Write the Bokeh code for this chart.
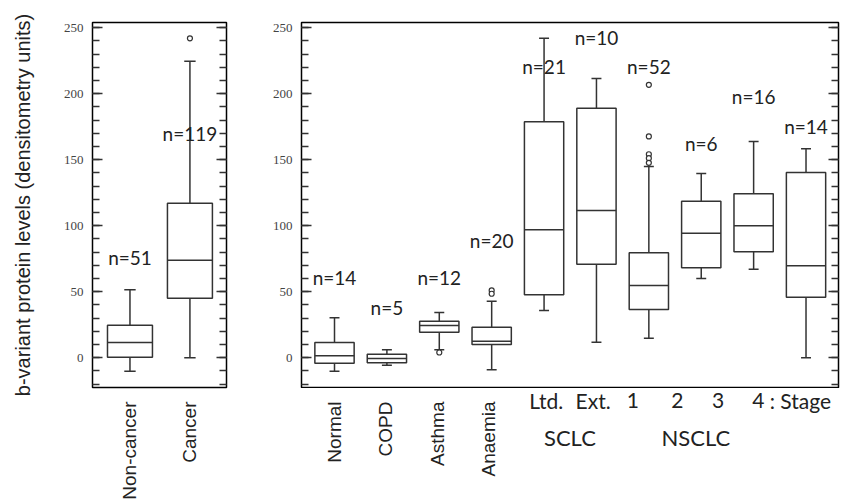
import numpy as np
from bokeh.plotting import figure
from bokeh.models import FixedTicker, LinearAxis, Range1d, ColumnDataSource
from bokeh.layouts import row, column
from bokeh.core.properties import value
from bokeh.embed import file_html
from bokeh.resources import INLINE

# ---------------- data ----------------
left_groups = ["Non-cancer", "Cancer"]
left_lower = [-10.1, 0.0]
left_q1 = [0.5, 45.2]
left_median = [11.6, 73.9]
left_q3 = [24.7, 117.1]
left_upper = [51.5, 224.7]
left_n = ["n=51", "n=119"]
left_n_y = [76, 170]
left_out_group = ["Cancer"]
left_out_val = [242]

right_groups = ["Normal", "COPD", "Asthma", "Anaemia", "Ltd.", "Ext.", "1", "2", "3", "4"]
right_lower = [-10.1, -5.6, 6.1, -9.1, 35.8, 11.8, 14.8, 60.1, 67.1, 0.0]
right_q1 = [-4.1, -3.8, 19.4, 10.1, 47.7, 70.9, 36.6, 68.2, 80.3, 45.9]
right_median = [1.5, -0.5, 24.5, 12.6, 97.0, 111.6, 54.8, 94.4, 100.0, 69.7]
right_q3 = [11.6, 2.7, 27.7, 23.2, 178.8, 189.1, 79.5, 118.6, 124.2, 140.4]
right_upper = [30.3, 6.1, 34.3, 42.9, 242.0, 211.6, 144.9, 139.6, 163.9, 158.3]
right_n = ["n=14", "n=5", "n=12", "n=20", "n=21", "n=10", "n=52", "n=6", "n=16", "n=14"]
right_n_y = [61, 38, 61, 89, 221, 243, 221, 162, 198, 175]
right_out_group = ["Asthma", "Anaemia", "Anaemia", "1", "1", "1", "1", "1"]
right_out_val = [4.0, 51.0, 48.5, 206.8, 167.7, 154.2, 151.2, 147.7]

vertical_count = 4  # first four right-hand groups are labelled vertically
stage_labels = ["Ltd.", "Ext.", "1", "2", "3", "4", ": Stage"]
stage_x = [5.11, 6.02, 6.79, 7.65, 8.44, 9.22, 9.44]
stage_align = ["center", "center", "center", "center", "center", "center", "left"]
type_labels = ["SCLC", "NSCLC"]
type_x = [5.57, 8.01]

y_major = [0, 50, 100, 150, 200, 250]
y_minor = list(range(-20, 251, 10))

LINE = "#333333"
TEXT = "#222222"
FONT = "Lato"
SANS = "Liberation Sans"
YR = (-22.5, 254)
H = 500


def style_common(p):
    p.background_fill_color = "white"
    p.border_fill_color = "white"
    p.xgrid.visible = False
    p.ygrid.visible = False


def add_right_ticks(p):
    for ticks, length in ((y_minor, 7), (y_major, 10)):
        ra = LinearAxis(ticker=FixedTicker(ticks=[], minor_ticks=ticks))
        ra.major_tick_in = 0
        ra.major_tick_out = 0
        ra.minor_tick_in = length
        ra.minor_tick_out = 0
        ra.minor_tick_line_color = LINE
        ra.minor_tick_line_width = 1.5
        ra.major_tick_line_color = None
        ra.axis_line_color = None
        ra.major_label_standoff = 0
        p.add_layout(ra, "right")


def style_left_axis(p, show_label):
    ya = p.yaxis[0]
    ya.ticker = FixedTicker(ticks=y_major, minor_ticks=y_minor)
    ya.major_tick_in = 10
    ya.major_tick_out = 0
    ya.minor_tick_in = 7
    ya.minor_tick_out = 0
    ya.major_tick_line_color = LINE
    ya.minor_tick_line_color = LINE
    ya.major_tick_line_width = 1.5
    ya.minor_tick_line_width = 1.5
    ya.axis_line_color = None
    ya.major_label_text_font = "Liberation Serif"
    ya.major_label_text_font_size = "13px"
    ya.major_label_text_color = "#444444"
    ya.major_label_standoff = 9
    if show_label:
        ya.axis_label = "b-variant protein levels (densitometry units)"
        ya.axis_label_text_font = SANS
        ya.axis_label_text_font_size = "20px"
        ya.axis_label_text_font_style = "normal"
        ya.axis_label_text_color = TEXT
        ya.axis_label_standoff = 27


def draw_boxes(p, groups, lower, q1, med, q3, upper, nlab, ny, og, ov):
    x = np.arange(1, len(groups) + 1, dtype=float)
    bw = 0.75
    cw = 0.19
    src = ColumnDataSource(dict(x=x, lower=lower, q1=q1, med=med, q3=q3, upper=upper,
                                xl=x - bw / 2, xr=x + bw / 2, cl=x - cw / 2, cr=x + cw / 2,
                                n=nlab, ny=ny))
    kw = dict(source=src, line_color=LINE, line_width=1.5)
    p.segment("x", "q3", "x", "upper", **kw)
    p.segment("x", "lower", "x", "q1", **kw)
    p.segment("cl", "upper", "cr", "upper", **kw)
    p.segment("cl", "lower", "cr", "lower", **kw)
    p.vbar(x="x", width=bw, bottom="q1", top="q3", fill_color="white", **kw)
    p.segment("xl", "med", "xr", "med", **kw)
    ox = [groups.index(g) + 1 for g in og]
    p.scatter(ox, ov, size=5, marker="circle", fill_color="white", line_color=LINE, line_width=1.2)
    p.text("x", "ny", text="n", source=src, text_font=value(FONT), text_font_size="19px",
           text_color=TEXT, text_align="center", text_baseline="middle")
    return x


def make_strip(width, height, x_range, mbl, mbr):
    s = figure(width=width, height=height, x_range=x_range, y_range=Range1d(-height, 0),
               x_axis_location=None, y_axis_location=None,
               output_backend="svg", toolbar_location=None,
               min_border_left=mbl, min_border_right=mbr, min_border_top=0, min_border_bottom=0)
    style_common(s)
    s.outline_line_color = None
    return s


def vertical_labels(s, xs, labels, top):
    s.text(list(xs), [top] * len(xs), text=list(labels), angle=np.pi / 2,
           text_align="right", text_baseline="middle", text_font=value(SANS),
           text_font_size="19px", text_color=TEXT)


# ---------------- left panel ----------------
LW = 266
LTOP = 400
xr_left = Range1d(0.375, 2.61)
p1 = figure(width=LW, height=LTOP, x_range=xr_left, y_range=Range1d(*YR),
            x_axis_location=None, output_backend="svg", toolbar_location=None,
            min_border_left=92, min_border_right=40, min_border_top=22,
            min_border_bottom=LTOP - 387)
style_common(p1)
p1.outline_line_color = "black"
p1.outline_line_width = 1.5
xl = draw_boxes(p1, left_groups, left_lower, left_q1, left_median, left_q3, left_upper,
                left_n, left_n_y, left_out_group, left_out_val)
style_left_axis(p1, True)
add_right_ticks(p1)

s1 = make_strip(LW, H - LTOP, xr_left, 92, 40)
vertical_labels(s1, xl, left_groups, -1)

# ---------------- right panel ----------------
RTOP = 388
xr_right = (0.37, 10.62)
RW = 580
p2 = figure(width=RW, height=RTOP, x_range=Range1d(*xr_right), y_range=Range1d(*YR),
            x_axis_location=None, output_backend="svg", toolbar_location=None,
            min_border_left=35, min_border_right=8, min_border_top=22,
            min_border_bottom=RTOP - 387)
style_common(p2)
p2.outline_line_color = "black"
p2.outline_line_width = 1.5
xr = draw_boxes(p2, right_groups, right_lower, right_q1, right_median, right_q3, right_upper,
                right_n, right_n_y, right_out_group, right_out_val)
style_left_axis(p2, False)
add_right_ticks(p2)

# label strip under the right panel (same horizontal scale, extended to the canvas edge)
frame_w = RW - 35 - 8
ext = 8 * (xr_right[1] - xr_right[0]) / frame_w
s2 = make_strip(RW, H - RTOP, Range1d(xr_right[0], xr_right[1] + ext), 35, 0)
vertical_labels(s2, xr[:vertical_count], right_groups[:vertical_count], -13)
s2.text(stage_x, [-12] * len(stage_x), text=stage_labels, text_align=stage_align,
        text_baseline="middle", text_font=value(FONT), text_font_size="21px", text_color=TEXT)
s2.text(type_x, [-49] * len(type_x), text=type_labels, text_align="center",
        text_baseline="middle", text_font=value(FONT), text_font_size="22px", text_color=TEXT)

layout = row(column(p1, s1), column(p2, s2))
open("out.html", "w").write(file_html(layout, INLINE))
